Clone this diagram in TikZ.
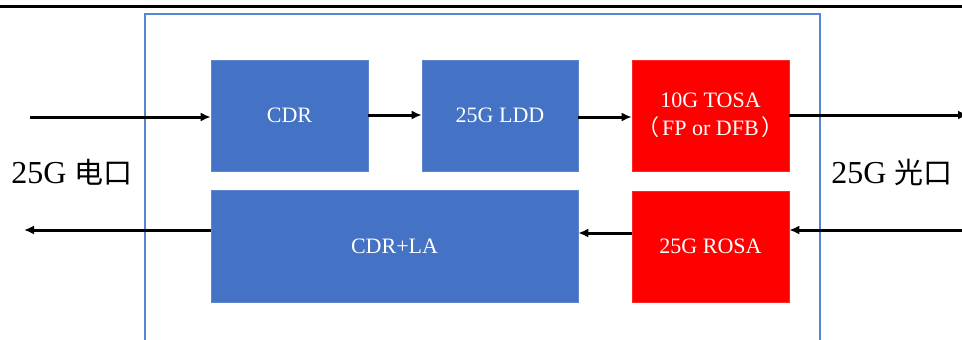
\documentclass[tikz,border=0pt]{standalone}
\usepackage{fontspec}
\setmainfont{Liberation Serif}
\newfontfamily\cjk{Noto Sans CJK SC}
\usetikzlibrary{arrows.meta}
\definecolor{boxblue}{HTML}{4472C4}
\definecolor{framblue}{HTML}{5587D2}
\definecolor{boxred}{HTML}{FF0000}
\tikzset{
  blk/.style={draw=#1!85!white, line width=0.6pt, fill=#1, text=white, inner sep=0pt,
    font=\fontsize{22}{28}\selectfont, align=center},
  sig/.style={line width=3pt, -{Latex[length=10pt,width=9pt]}},
  port/.style={font=\fontsize{32}{36}\selectfont, inner sep=0pt}
}
\begin{document}
\begin{tikzpicture}[x=1pt,y=-1pt]
\useasboundingbox (0,0) rectangle (962,340);
% header rule
\draw[line width=2.6pt] (0,6.5) -- (962,6.5);
% module outline
\draw[framblue, line width=2pt] (145,13.5) rectangle (820,360);
% functional blocks
\node[blk=boxblue, minimum width=157pt, minimum height=111pt] (cdr) at (289.5,115.5) {CDR};
\node[blk=boxblue, minimum width=156pt, minimum height=111pt] (ldd) at (500,115.5) {25G LDD};
\node[blk=boxred, minimum width=157pt, minimum height=111pt] (tosa) at (710.5,115.5)
  {10G TOSA\\{\cjk（}\hspace{3pt}FP or DFB\hspace{3pt}{\cjk）}};
\node[blk=boxblue, minimum width=367pt, minimum height=112pt] (cdrla) at (394.5,246) {CDR+LA};
\node[blk=boxred, minimum width=157pt, minimum height=111pt] (rosa) at (710.5,246.5) {25G ROSA};
% port labels
\node[port] (eport) at (72,172) {25G {\cjk\fontsize{29}{34}\selectfont 电口}};
\node[port] (oport) at (892,172) {25G {\cjk\fontsize{29}{34}\selectfont 光口}};
% signal path coordinates
\coordinate (ein) at (30,117);
\coordinate (eout) at (24,230);
\coordinate (oout) at (968,115);
\coordinate (oin) at (962,230);
% transmit path
\draw[sig] (ein) -- (cdr.west |- ein);
\draw[sig] (cdr.east |- 0,115) -- (ldd.west |- 0,115);
\draw[sig] (ldd.east |- 0,117) -- (tosa.west |- 0,117);
\draw[sig] (tosa.east |- oout) -- (oout);
% receive path
\draw[sig] (oin) -- (rosa.east |- oin);
\draw[sig] (rosa.west |- 0,233) -- (cdrla.east |- 0,233);
\draw[sig] (cdrla.west |- eout) -- (eout);
\end{tikzpicture}
\end{document}
